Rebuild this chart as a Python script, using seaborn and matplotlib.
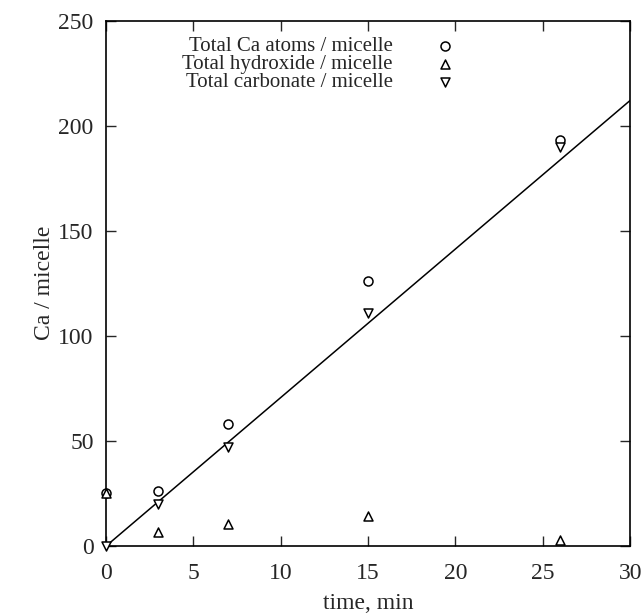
import numpy as np
import pandas as pd
import matplotlib
matplotlib.use('Agg')
import matplotlib.pyplot as plt
import seaborn as sns

# data
time_min = [0, 3, 7, 15, 26]
total_ca = [25, 26, 58, 126, 193]
total_hydroxide = [25, 6.5, 10.5, 14.5, 3]
total_carbonate = [0, 20, 47, 111, 190]

fit_x = [0, 30]
fit_y = [0, 212]

series_labels = ['Total Ca atoms / micelle', 'Total hydroxide / micelle', 'Total carbonate / micelle']
series_markers = ['o', '^', 'v']


def main():
    sns.set_style('ticks')
    plt.rcParams['font.family'] = ['Liberation Serif', 'DejaVu Serif']
    plt.rcParams['font.size'] = 15

    fig = plt.figure(figsize=(6.43, 6.16), dpi=100)
    ax = fig.add_axes([0.165, 0.1136, 0.815, 0.853])

    # fitted line through the origin
    sns.lineplot(x=fit_x, y=fit_y, color='black', linewidth=1.1, ax=ax)

    for vals, lab, mk in zip([total_ca, total_hydroxide, total_carbonate], series_labels, series_markers):
        sns.scatterplot(x=time_min, y=vals, marker=mk, s=42, facecolor='white',
                        edgecolor='black', linewidth=1.1, label=lab, ax=ax,
                        zorder=3, clip_on=False)

    ax.set_xlim(0, 30)
    ax.set_ylim(0, 250)
    ax.set_xticks(range(0, 31, 5))
    ax.set_yticks(range(0, 251, 50))
    ax.tick_params(direction='in', length=7, width=1, top=True, right=True,
                   labelsize=17, pad=9)
    ax.tick_params(axis='x', pad=12)
    for sp in ax.spines.values():
        sp.set_linewidth(1.2)
        sp.set_color('black')

    ax.set_xlabel('time, min', fontsize=17, labelpad=7)
    ax.set_ylabel('Ca / micelle', fontsize=17, labelpad=2)

    ax.legend(loc='upper left', bbox_to_anchor=(0.11, 1.005), frameon=False,
              markerfirst=False, handletextpad=2.0, labelspacing=-0.08,
              fontsize=15, handlelength=1.0)

    fig.savefig('out.png', dpi=100)


if __name__ == '__main__':
    main()
